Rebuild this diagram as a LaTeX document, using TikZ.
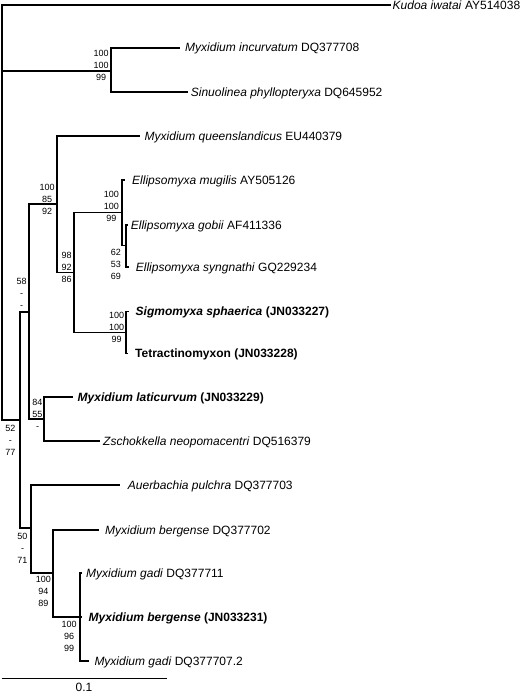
\documentclass[tikz,border=0pt]{standalone}
\usepackage{fontspec}
\setmainfont{Liberation Sans}
\begin{document}
\begin{tikzpicture}[x=1pt,y=-1pt,
  br/.style={line width=1.8pt, line join=miter},
  taxon/.style={anchor=west, inner sep=0pt, font=\fontsize{12}{14}\selectfont, text height=8.6pt, text depth=0pt},
  lab/.style={align=center, inner sep=0pt, font=\fontsize{9}{12}\selectfont},
  scl/.style={inner sep=0pt, font=\fontsize{12}{14}\selectfont, text height=8.6pt, text depth=0pt}]
\useasboundingbox (0,0) rectangle (520,693);
% internal nodes
\coordinate (root) at (2,70.7);
\coordinate (nA) at (110.7,70.7);
\coordinate (nB) at (20,420);
\coordinate (nC) at (29.3,312);
\coordinate (nD) at (57,204);
\coordinate (nE) at (74,272.5);
\coordinate (nF) at (122,212.5);
\coordinate (nG) at (126,245.5);
\coordinate (nH) at (126,332.5);
\coordinate (nI) at (44.3,419.3);
\coordinate (nJ) at (30.7,528);
\coordinate (nK) at (53.3,573);
\coordinate (nL) at (80,617);
% branch tips
\coordinate (tKud) at (391,5);
\coordinate (tInc) at (180,47.7);
\coordinate (tSin) at (187.7,92.3);
\coordinate (tQue) at (140,136);
\coordinate (tMug) at (125,180);
\coordinate (tGob) at (127.5,225);
\coordinate (tSyn) at (129,267);
\coordinate (tSig) at (129,311.5);
\coordinate (tTet) at (128,353.5);
\coordinate (tLat) at (72.7,397);
\coordinate (tZsc) at (99.5,441);
\coordinate (tAue) at (120,485);
\coordinate (tBer) at (99.3,530);
\coordinate (tGaA) at (81.7,573);
\coordinate (tBeB) at (82,617);
\coordinate (tGaB) at (89.3,660.7);
% branches
\foreach \p/\c in {root/tKud, root/nA, root/nB, nA/tInc, nA/tSin,
  nB/nC, nB/nJ, nC/nD, nC/nI, nD/tQue, nD/nE, nE/nF, nE/nH,
  nF/tMug, nF/nG, nG/tGob, nG/tSyn, nH/tSig, nH/tTet,
  nI/tLat, nI/tZsc, nJ/tAue, nJ/nK, nK/tBer, nK/nL,
  nL/tGaA, nL/tBeB, nL/tGaB}
  \draw[br] (\p) |- (\c);
% taxon names
\node[taxon] (xKud) at (392.5,5) {\textit{Kudoa iwatai} AY514038};
\node[taxon] (xInc) at (185,47.7) {\textit{Myxidium incurvatum} DQ377708};
\node[taxon] (xSin) at (190.7,92.3) {\textit{Sinuolinea phyllopteryxa} DQ645952};
\node[taxon] (xQue) at (144.5,136) {\textit{Myxidium queenslandicus} EU440379};
\node[taxon] (xMug) at (132,180) {\textit{Ellipsomyxa mugilis} AY505126};
\node[taxon] (xGob) at (130.7,225) {\textit{Ellipsomyxa gobii} AF411336};
\node[taxon] (xSyn) at (135.7,267) {\textit{Ellipsomyxa syngnathi} GQ229234};
\node[taxon] (xSig) at (135.5,311.5) {\textbf{\textit{Sigmomyxa sphaerica} (JN033227)}};
\node[taxon] (xTet) at (135,353.5) {\textbf{Tetractinomyxon (JN033228)}};
\node[taxon] (xLat) at (77.5,397) {\textbf{\textit{Myxidium laticurvum} (JN033229)}};
\node[taxon] (xZsc) at (103,441) {\textit{Zschokkella neopomacentri} DQ516379};
\node[taxon] (xAue) at (127.7,485) {\textit{Auerbachia pulchra} DQ377703};
\node[taxon] (xBer) at (105,530) {\textit{Myxidium bergense} DQ377702};
\node[taxon] (xGaA) at (86,573) {\textit{Myxidium gadi} DQ377711};
\node[taxon] (xBeB) at (88.5,617) {\textbf{\textit{Myxidium bergense} (JN033231)}};
\node[taxon] (xGaB) at (94.3,660.7) {\textit{Myxidium gadi} DQ377707.2};
% support values
\node[lab] (l1) at (101.2,65.5) {100\\100\\99};
\node[lab] (l2) at (47.2,199) {100\\85\\92};
\node[lab] (l3) at (66.7,267) {98\\92\\86};
\node[lab] (l4) at (111.3,206.5) {100\\100\\99};
\node[lab] (l5) at (116,264.5) {62\\53\\69};
\node[lab] (l6) at (116.7,327.5) {100\\100\\99};
\node[lab] (l7) at (21.7,293) {58\\-\\-};
\node[lab] (l8) at (37.5,414.5) {84\\55\\-};
\node[lab] (l9) at (10.3,440.7) {52\\-\\77};
\node[lab] (l10) at (22.5,548) {50\\-\\71};
\node[lab] (l11) at (43.3,591) {100\\94\\89};
\node[lab] (l12) at (69.2,636.7) {100\\96\\99};
% scale bar
\coordinate (sbL) at (1.7,678.5);
\coordinate (sbR) at (166.7,678.5);
\draw[br] (sbL) -- (sbR);
\node[scl] (sbT) at (84,687) {0.1};
\end{tikzpicture}
\end{document}
